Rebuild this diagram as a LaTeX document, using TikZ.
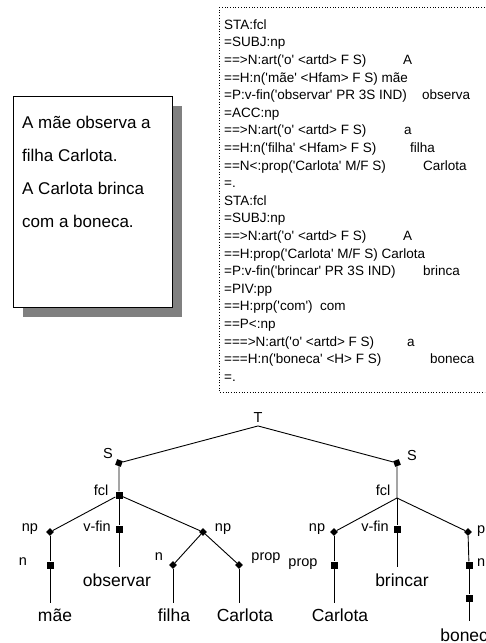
\documentclass[tikz,border=0pt]{standalone}
\usepackage{fontspec}
\setmainfont{Liberation Sans}
\newfontfamily\lstfont{Liberation Sans}[Ligatures=TeXOff]
\usetikzlibrary{shapes.geometric}
\definecolor{shadowgray}{RGB}{128,128,128}
\begin{document}
\begin{tikzpicture}[x=1pt,y=-1pt,
  boxtxt/.style={anchor=base west,inner sep=0,font=\fontsize{17}{20}\selectfont},
  listing/.style={anchor=base west,inner sep=0,font=\lstfont\fontsize{13.5}{16}\selectfont},
  lbl/.style={inner sep=0,text height=10.5pt,text depth=3pt,font=\fontsize{14.5}{17}\selectfont},
  word/.style={inner sep=0,text height=12.5pt,text depth=3.5pt,font=\fontsize{17.5}{20}\selectfont},
  sq/.style={rectangle,fill=black,minimum size=7pt,inner sep=0},
  smallsq/.style={rectangle,fill=black,minimum size=6pt,inner sep=0},
  dm/.style={diamond,fill=black,minimum size=8pt,inner sep=0},
  edge/.style={line width=0.9pt},
]
\useasboundingbox (0,0) rectangle (485,643);
\clip (0,0) rectangle (485,643);

% ---- sentence box with shadow
\fill[shadowgray] (23,106) rectangle (182,317);
\draw[fill=white,line width=0.8pt] (13,96) rectangle (172,307);
\node[boxtxt] (s1) at (22,128) {A mãe observa a};
\node[boxtxt] (s2) at (22,161) {filha Carlota.};
\node[boxtxt] (s3) at (22,194) {A Carlota brinca};
\node[boxtxt] (s4) at (22,227) {com a boneca.};

% ---- analysis listing
\draw[dotted,line width=0.7pt] (219,7) rectangle (500,392);
\node[listing] (l1)  at (224,29.2)  {STA:fcl};
\node[listing] (l2)  at (224,46.8)  {=SUBJ:np};
\node[listing] (l3)  at (224,64.4)  {==>N:art('o' <artd> F S)};
\node[listing] (w3)  at (403,64.4)  {A};
\node[listing] (l4)  at (224,82.0)  {==H:n('mãe' <Hfam> F S) mãe};
\node[listing] (l5)  at (224,99.6)  {=P:v-fin('observar' PR 3S IND)};
\node[listing] (w5)  at (422,99.6)  {observa};
\node[listing] (l6)  at (224,117.2) {=ACC:np};
\node[listing] (l7)  at (224,134.8) {==>N:art('o' <artd> F S)};
\node[listing] (w7)  at (404,134.8) {a};
\node[listing] (l8)  at (224,152.4) {==H:n('filha' <Hfam> F S)};
\node[listing] (w8)  at (410,152.4) {filha};
\node[listing] (l9)  at (224,170.0) {==N<:prop('Carlota' M/F S)};
\node[listing] (w9)  at (423,170.0) {Carlota};
\node[listing] (l10) at (224,187.6) {=.};
\node[listing] (l11) at (224,205.2) {STA:fcl};
\node[listing] (l12) at (224,222.8) {=SUBJ:np};
\node[listing] (l13) at (224,240.4) {==>N:art('o' <artd> F S)};
\node[listing] (w13) at (403,240.4) {A};
\node[listing] (l14) at (224,258.0) {==H:prop('Carlota' M/F S) Carlota};
\node[listing] (l15) at (224,275.6) {=P:v-fin('brincar' PR 3S IND)};
\node[listing] (w15) at (423,275.6) {brinca};
\node[listing] (l16) at (224,293.2) {=PIV:pp};
\node[listing] (l17) at (224,310.8) {==H:prp('com')\ \ com};
\node[listing] (l18) at (224,328.4) {==P<:np};
\node[listing] (l19) at (224,346.0) {===>N:art('o' <artd> F S)};
\node[listing] (w19) at (407,346.0) {a};
\node[listing] (l20) at (224,363.6) {===H:n('boneca' <H> F S)};
\node[listing] (w20) at (430,363.6) {boneca};
\node[listing] (l21) at (224,381.2) {=.};

% ---- tree
\node[lbl] (T) at (258,419) {T};
\node[smallsq,rotate=-20] (S1) at (119,463) {};
\node[lbl] (S1l) at (108,455) {S};
\node[smallsq,rotate=20] (S2) at (397,463) {};
\node[lbl] (S2l) at (412,457) {S};
\draw[edge] (T.south) -- (S1);
\draw[edge] (T.south) -- (S2);

% left clause
\node[sq] (F1) at (119,495) {};
\node[lbl] (F1l) at (101,492) {fcl};
\draw[edge] (S1) -- (F1);
\node[dm] (np1) at (50,532) {};
\node[lbl] (np1l) at (30,528) {np};
\node[sq] (n1) at (50,565) {};
\node[lbl] (n1l) at (23,562) {n};
\coordinate (e1) at (50,603);
\node[word] (mae) at (55,617) {mãe};
\draw[edge] (F1) -- (np1);
\draw[edge] (np1) -- (n1);
\draw[edge] (n1) -- (e1);

\node[sq] (v1) at (119,529) {};
\node[lbl] (v1l) at (97,528) {v-fin};
\coordinate (e2) at (119,567);
\node[word] (obs) at (117,582) {observar};
\draw[edge] (F1) -- (v1);
\draw[edge] (v1) -- (e2);

\node[dm] (np2) at (203,532) {};
\node[lbl] (np2l) at (223,528) {np};
\node[dm] (n2) at (173,565) {};
\node[lbl] (n2l) at (159,557) {n};
\node[dm] (p1) at (239,565) {};
\node[lbl] (p1l) at (266,557) {prop};
\coordinate (e3) at (173,603);
\coordinate (e4) at (239,603);
\node[word] (fil) at (174,617) {filha};
\node[word] (car1) at (245,617) {Carlota};
\draw[edge] (F1) -- (np2);
\draw[edge] (np2) -- (n2);
\draw[edge] (np2) -- (p1);
\draw[edge] (n2) -- (e3);
\draw[edge] (p1) -- (e4);

% right clause
\coordinate (F2) at (397,498);
\node[lbl] (F2l) at (383,492) {fcl};
\draw[edge] (S2) -- (F2);
\node[dm] (np3) at (334,532) {};
\node[lbl] (np3l) at (317,528) {np};
\node[sq] (p2) at (334,565) {};
\node[lbl] (p2l) at (303,563) {prop};
\coordinate (e5) at (334,603);
\node[word] (car2) at (340,617) {Carlota};
\draw[edge] (F2) -- (np3);
\draw[edge] (np3) -- (p2);
\draw[edge] (p2) -- (e5);

\node[sq] (v2) at (397,529) {};
\node[lbl] (v2l) at (375,528) {v-fin};
\coordinate (e6) at (397,567);
\node[word] (bri) at (402,582) {brincar};
\draw[edge] (F2) -- (v2);
\draw[edge] (v2) -- (e6);

\node[dm] (pp) at (468,532) {};
\node[lbl,anchor=west] (ppl) at (477,530) {pp};
\node[sq] (np4) at (469,565) {};
\node[lbl,anchor=west] (np4l) at (477,563) {np};
\node[sq] (n4) at (469,598) {};
\coordinate (e7) at (469,621);
\node[word] (bon) at (469,637) {boneca};
\draw[edge] (F2) -- (pp);
\draw[edge] (pp) -- (np4);
\draw[edge] (np4) -- (n4);
\draw[edge] (n4) -- (e7);
\end{tikzpicture}
\end{document}
